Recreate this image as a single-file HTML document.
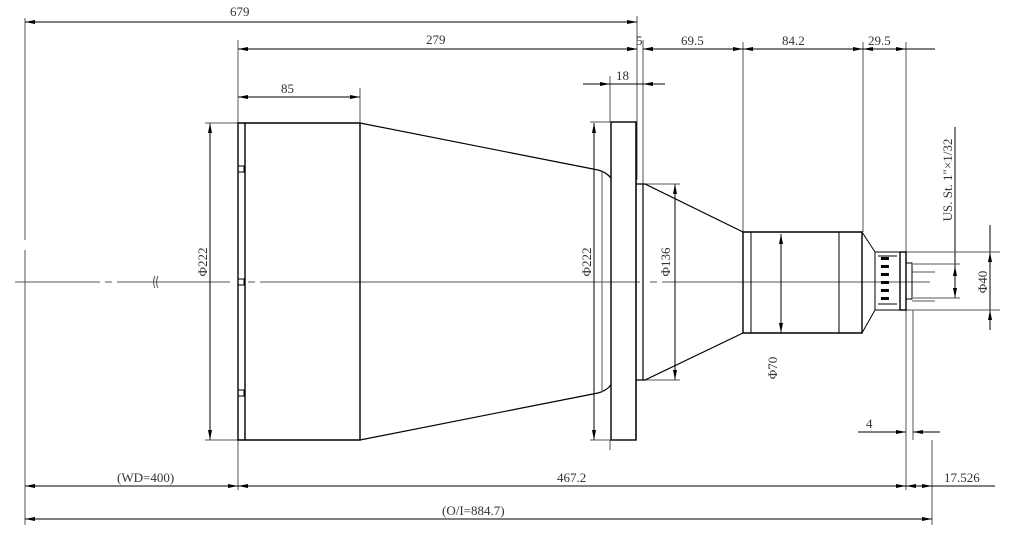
<!DOCTYPE html>
<html><head><style>html,body{margin:0;padding:0;background:#fff}svg{display:block}text{font-family:"Liberation Serif","Noto Serif CJK SC",serif;font-size:13px;fill:#333}</style></head><body>
<svg width="1009" height="553" viewBox="0 0 1009 553" xmlns="http://www.w3.org/2000/svg">
<defs>
<marker id="a" viewBox="0 0 10 4" refX="10" refY="2" markerWidth="12" markerHeight="4" markerUnits="userSpaceOnUse" orient="auto-start-reverse"><path d="M0,0L10,2L0,4z" fill="#000"/></marker>
</defs>
<g stroke="#000" stroke-width="1" fill="none">
<path d="M15,282H100M105,282H112M117,282H230M248,282H255M260,282H640M650,282H657M662,282H930" stroke="#555"/>
<path d="M155,276q-3,6 0,12M158,276q-3,6 0,12" stroke="#555"/>
<path d="M25,18V240M25,250V525M238,40V490M637,16V180M643,40V186M743,42V232M863,42V232M906,42V252M610,76V122M906,310V490M913,310V440M932,440V525M610,440V450" stroke="#555"/>
<path d="M25,22H637" marker-start="url(#a)" marker-end="url(#a)"/>
<path d="M238,49H637" marker-start="url(#a)" marker-end="url(#a)"/>
<path d="M238,97H360" marker-start="url(#a)" marker-end="url(#a)"/>
<path d="M360,88V122" stroke="#555"/>
<path d="M620,49H637" marker-end="url(#a)"/><path d="M660,49H643" marker-end="url(#a)"/>
<path d="M643,49H743" marker-start="url(#a)" marker-end="url(#a)"/>
<path d="M743,49H863" marker-start="url(#a)" marker-end="url(#a)"/>
<path d="M863,49H906" marker-start="url(#a)" marker-end="url(#a)"/><path d="M906,49H935"/>
<path d="M583,84H610" marker-end="url(#a)"/><path d="M665,84H643" marker-end="url(#a)"/><path d="M610,84H643"/>
<path d="M210,123V440" marker-start="url(#a)" marker-end="url(#a)"/><path d="M205,123H240M205,440H240" stroke="#555"/>
<path d="M594,123V440" marker-start="url(#a)" marker-end="url(#a)"/><path d="M590,122H610M590,440H610" stroke="#555"/>
<path d="M675,184V380" marker-start="url(#a)" marker-end="url(#a)"/><path d="M644,184H680M644,380H680" stroke="#555"/>
<path d="M781,234V333" marker-start="url(#a)" marker-end="url(#a)"/>
<path d="M955,127V298" /><path d="M955,266V298" marker-start="url(#a)" marker-end="url(#a)"/>
<path d="M913,264H960M913,298H960M912,272H935M912,301H935" stroke="#555"/>
<path d="M990,225V252"/><path d="M990,290V252" marker-end="url(#a)"/><path d="M990,330V310" marker-end="url(#a)"/><path d="M990,290V330"/>
<path d="M906,252H1000M906,310H1000" stroke="#555"/>
<path d="M858,432H906" marker-end="url(#a)"/><path d="M940,432H913" marker-end="url(#a)"/>
<path d="M25,486H238" marker-start="url(#a)" marker-end="url(#a)"/>
<path d="M238,486H906" marker-start="url(#a)" marker-end="url(#a)"/>
<path d="M906,486H932" marker-start="url(#a)" marker-end="url(#a)"/><path d="M932,486H995"/>
<path d="M25,519H932" marker-start="url(#a)" marker-end="url(#a)"/>
<path d="M238,123H360V440H238Z M245,123V440" stroke-width="1.4"/>
<rect x="238" y="166" width="6" height="6"/><rect x="238" y="279" width="6" height="6"/><rect x="238" y="390" width="6" height="6"/>
<path d="M360,123L598,170Q606,172 611,178M360,440L598,393Q606,391 611,385" stroke-width="1.2"/>
<path d="M602,172V392" stroke="#555"/>
<rect x="611" y="122" width="25" height="318" stroke-width="1.4"/>
<path d="M636,122V440M643,184V380" stroke-width="1.2"/>
<path d="M636,184H645L743,232M636,380H645L743,333" stroke-width="1.2"/>
<path d="M743,232H862V333H743Z" stroke-width="1.4"/>
<path d="M751,232V333M839,232V333"/>
<path d="M862,232L875,252V310L862,333"/>
<rect x="875" y="252" width="25" height="58"/>
<path d="M878,256H897M878,304H897"/>
<g fill="#000" stroke="none"><rect x="881" y="257" width="8" height="3"/><rect x="881" y="265" width="8" height="3"/><rect x="881" y="273" width="8" height="3"/><rect x="881" y="281" width="8" height="3"/><rect x="881" y="289" width="8" height="3"/><rect x="881" y="297" width="8" height="3"/></g>
<rect x="900" y="252" width="6" height="58" stroke-width="1.4"/>
<rect x="906" y="263" width="6" height="36"/>
</g>
<text x="230" y="16">679</text>
<text x="426" y="44">279</text>
<text x="281" y="93">85</text>
<text x="636" y="45">5</text>
<text x="681" y="45">69.5</text>
<text x="782" y="45">84.2</text>
<text x="868" y="45">29.5</text>
<text x="616" y="80">18</text>
<text transform="translate(207,262) rotate(-90)" text-anchor="middle">Φ222</text>
<text transform="translate(591,262) rotate(-90)" text-anchor="middle">Φ222</text>
<text transform="translate(670,262) rotate(-90)" text-anchor="middle">Φ136</text>
<text transform="translate(777,368) rotate(-90)" text-anchor="middle">Φ70</text>
<text transform="translate(987,282) rotate(-90)" text-anchor="middle">Φ40</text>
<text transform="translate(952,180) rotate(-90)" text-anchor="middle">US. St. 1″×1/32</text>
<text x="866" y="428">4</text>
<text x="944" y="482">17.526</text>
<text x="117" y="482">(WD=400)</text>
<text x="557" y="482">467.2</text>
<text x="442" y="515">(O/I=884.7)</text>
</svg>
</body></html>
